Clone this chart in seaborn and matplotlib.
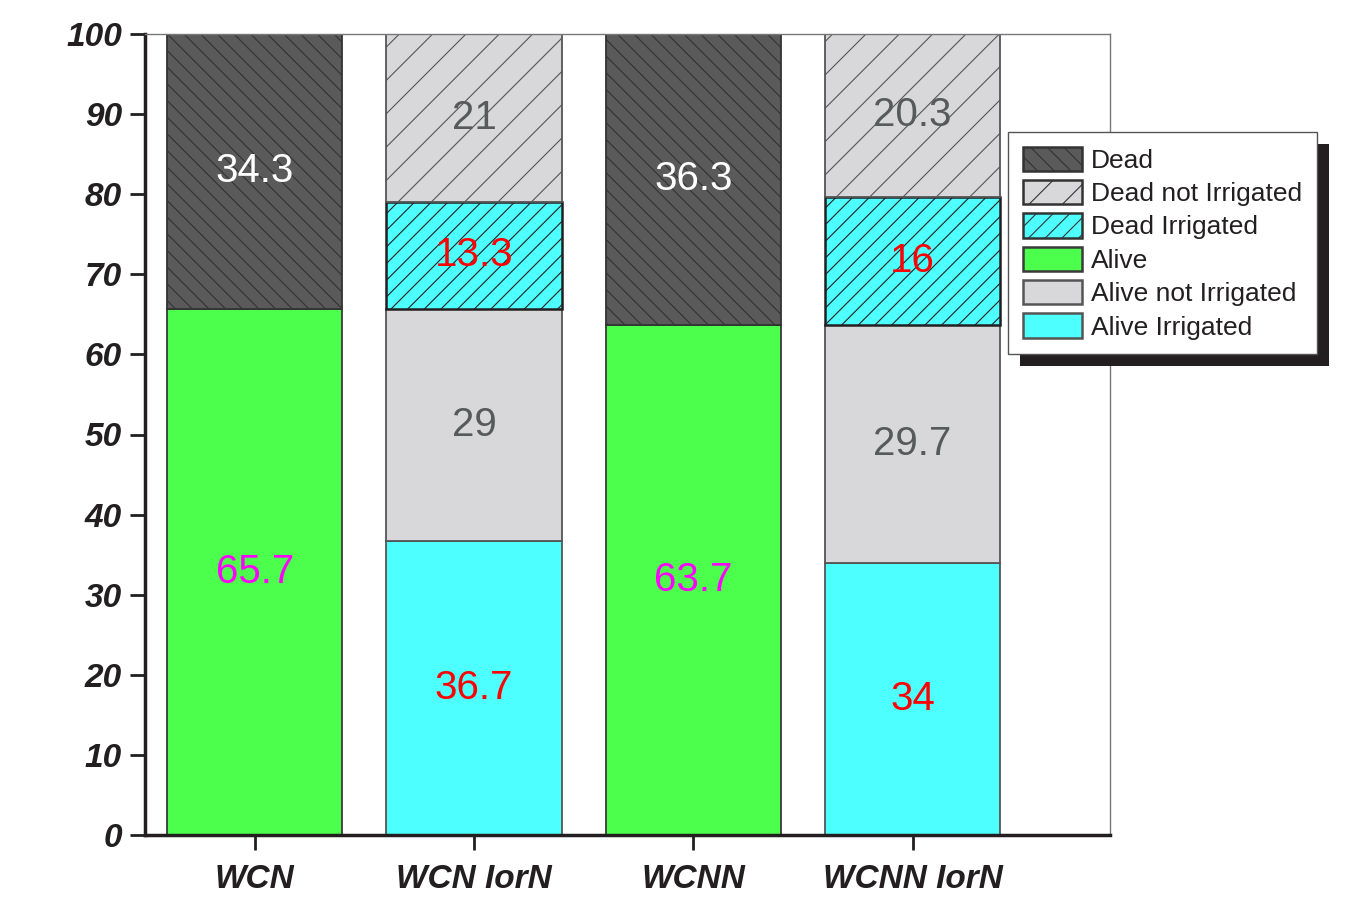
import matplotlib
matplotlib.use("Agg")
import matplotlib.pyplot as plt
import matplotlib.patches as mpatches
import seaborn as sns
import pandas as pd
import numpy as np

categories = ["WCN", "WCN IorN", "WCNN", "WCNN IorN"]

# segment values per category (None = segment not present), bottom -> top
alive = [65.7, None, 63.7, None]
alive_irrigated = [None, 36.7, None, 34]
alive_not_irrigated = [None, 29, None, 29.7]
dead_irrigated = [None, 13.3, None, 16]
dead_not_irrigated = [None, 21, None, 20.3]
dead = [34.3, None, 36.3, None]

stack_order = [
    ("Alive", alive),
    ("Alive Irrigated", alive_irrigated),
    ("Alive not Irrigated", alive_not_irrigated),
    ("Dead Irrigated", dead_irrigated),
    ("Dead not Irrigated", dead_not_irrigated),
    ("Dead", dead),
]
legend_order = ["Dead", "Dead not Irrigated", "Dead Irrigated",
                "Alive", "Alive not Irrigated", "Alive Irrigated"]

styles = {
    "Alive": dict(color="#4cff4c", hatch=None, ec="#3a3a3a", lw=1.3, tc="#ff00ff"),
    "Alive Irrigated": dict(color="#4dffff", hatch=None, ec="#555555", lw=1.3, tc="#ff0000"),
    "Alive not Irrigated": dict(color="#d8d8da", hatch=None, ec="#555555", lw=1.3, tc="#58595b"),
    "Dead Irrigated": dict(color="#4dffff", hatch="//", ec="#231f20", lw=1.8, tc="#ff0000"),
    "Dead not Irrigated": dict(color="#d8d8da", hatch="/", ec="#555555", lw=1.3, tc="#58595b"),
    "Dead": dict(color="#5a5a5b", hatch="\\\\", ec="#333333", lw=1.3, tc="#ffffff"),
}

sns.set_theme(style="ticks")
plt.rcParams["font.family"] = ["Liberation Sans", "DejaVu Sans"]
plt.rcParams["hatch.linewidth"] = 0.8

fig = plt.figure(figsize=(13.62, 9.17), dpi=100)
ax = fig.add_axes([145 / 1362, 82 / 917, 965 / 1362, 801 / 917])

running = [0.0] * len(categories)
handles = {}
for name, vals in stack_order:
    st = styles[name]
    rows = []
    for i, c in enumerate(categories):
        if vals[i] is not None:
            rows.append((c, vals[i], running[i]))
            running[i] += vals[i]
    df = pd.DataFrame(rows, columns=["cat", "value", "bottom"])
    sns.barplot(data=df, x="cat", y="value", order=categories, ax=ax,
                color=st["color"], saturation=1, width=0.8, errorbar=None,
                bottom=df["bottom"].values, hatch=st["hatch"],
                edgecolor=st["ec"], linewidth=st["lw"])
    cont = ax.containers[-1]
    ax.bar_label(cont, labels=[f"{v:g}" for v in df["value"]], label_type="center",
                 color=st["tc"], fontsize=29, family="Liberation Sans")
    handles[name] = mpatches.Patch(facecolor=st["color"], hatch=st["hatch"],
                                   edgecolor="#333333" if st["hatch"] else st["ec"],
                                   linewidth=1.8)

ax.set_xlim(-0.5, 3.9)
ax.set_ylim(0, 100)
ax.set_yticks(np.arange(0, 101, 10))
ax.set_xlabel("")
ax.set_ylabel("")

for lab in ax.get_xticklabels() + ax.get_yticklabels():
    lab.set_fontsize(24)
    lab.set_fontweight("bold")
    lab.set_fontstyle("italic")
    lab.set_color("#231f20")

ax.tick_params(axis="y", length=11, width=2.0, pad=5.5, color="#231f20")
ax.tick_params(axis="x", length=11, width=2.0, pad=10, color="#231f20")
for s in ["left", "bottom"]:
    ax.spines[s].set_linewidth(2.5)
    ax.spines[s].set_color("#231f20")
for s in ["top", "right"]:
    ax.spines[s].set_visible(True)
    ax.spines[s].set_linewidth(1.0)
    ax.spines[s].set_color("#777777")

leg = fig.legend([handles[n] for n in legend_order], legend_order,
                 loc="upper left", bbox_to_anchor=(1008 / 1362, 1 - 132 / 917),
                 frameon=True, fancybox=False, fontsize=19, framealpha=1,
                 facecolor="white",
                 handlelength=2.25, handleheight=1.05, handletextpad=0.35,
                 labelspacing=0.27, borderpad=0.55, borderaxespad=0)
leg.get_frame().set_edgecolor("#555555")
leg.get_frame().set_linewidth(1.0)
leg.set_zorder(5)
for t in leg.get_texts():
    t.set_color("#231f20")

fig.canvas.draw()
bb = leg.get_window_extent()
off = 12
sh_bb = matplotlib.transforms.Bbox.from_extents(bb.x0 + off, bb.y0 - off,
                                                bb.x1 + off, bb.y1 - off)
sh_bb = sh_bb.transformed(fig.transFigure.inverted())
shadow = mpatches.Rectangle((sh_bb.x0, sh_bb.y0), sh_bb.width, sh_bb.height,
                            transform=fig.transFigure, facecolor="#231f20",
                            edgecolor="none", zorder=4)
fig.add_artist(shadow)

fig.savefig("out.png", dpi=100)
